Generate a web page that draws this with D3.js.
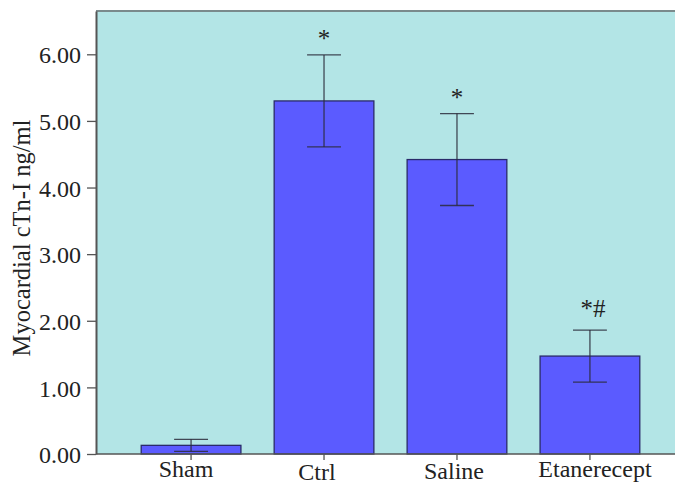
<!DOCTYPE html>
<html><head><meta charset="utf-8">
<script src="https://cdn.jsdelivr.net/npm/d3@7"></script>
<style>html,body{margin:0;padding:0;background:#fff;}svg{display:block;}</style>
</head><body>
<svg id="c" width="675" height="484"></svg>
<script>
const categories = ["Sham", "Ctrl", "Saline", "Etanerecept"];
const means = [0.13, 5.30, 4.42, 1.47];
const errors = [0.09, 0.69, 0.69, 0.39];
const marks = ["", "*", "*", "*#"];
const yTicks = [0, 1, 2, 3, 4, 5, 6];
const yLabel = "Myocardial cTn-I ng/ml";

const svg = d3.select("#c");
const L = 96, R = 685, T = 11, B = 454;
const font = "'Liberation Serif','Times New Roman',serif";

const x = d3.scaleBand().domain(categories).range([L, R]).paddingInner(0.25).paddingOuter(0.34);
const y = d3.scaleLinear().domain([0, 6.65]).range([B, T]);

svg.append("rect").attr("x", L).attr("y", T).attr("width", 675 - L).attr("height", B - T)
  .attr("fill", "#b3e5e6");
svg.append("line").attr("x1", L).attr("x2", 675).attr("y1", T).attr("y2", T)
  .attr("stroke", "#7a8a8c").attr("stroke-width", 2);

const data = categories.map((c, i) => ({c, m: means[i], e: errors[i], mk: marks[i]}));

svg.selectAll("rect.bar").data(data).join("rect").attr("class", "bar")
  .attr("x", d => x(d.c)).attr("width", x.bandwidth())
  .attr("y", d => y(d.m)).attr("height", d => B - y(d.m))
  .attr("fill", "#5b5bff").attr("stroke", "#2a2a6a").attr("stroke-width", 1.3);

const cap = x.bandwidth() * 0.17;
const eb = svg.selectAll("g.err").data(data).join("g").attr("class", "err")
  .attr("stroke", "#2b2b3b").attr("stroke-width", 1.3).attr("stroke-opacity", 0.85);
eb.append("line").attr("x1", d => x(d.c) + x.bandwidth()/2).attr("x2", d => x(d.c) + x.bandwidth()/2)
  .attr("y1", d => y(d.m + d.e)).attr("y2", d => y(d.m - d.e));
eb.append("line").attr("x1", d => x(d.c) + x.bandwidth()/2 - cap).attr("x2", d => x(d.c) + x.bandwidth()/2 + cap)
  .attr("y1", d => y(d.m + d.e)).attr("y2", d => y(d.m + d.e));
eb.append("line").attr("x1", d => x(d.c) + x.bandwidth()/2 - cap).attr("x2", d => x(d.c) + x.bandwidth()/2 + cap)
  .attr("y1", d => y(d.m - d.e)).attr("y2", d => y(d.m - d.e));

svg.selectAll("text.mk").data(data.filter(d => d.mk)).join("text").attr("class", "mk")
  .attr("x", d => x(d.c) + x.bandwidth()/2 + (d.mk.length > 1 ? 3 : 0))
  .attr("y", d => y(d.m + d.e) - (d.mk.length > 1 ? 13 : 8))
  .attr("text-anchor", "middle").attr("font-family", font).attr("font-size", 25)
  .attr("fill", "#222").text(d => d.mk);

// y axis
const ya = svg.append("g").attr("transform", `translate(${L},0)`)
  .call(d3.axisLeft(y).tickValues(yTicks).tickFormat(d3.format(".2f")).tickSize(9).tickSizeOuter(0));
ya.select(".domain").attr("stroke", "#555").attr("stroke-width", 2);
ya.selectAll(".tick line").attr("stroke", "#555").attr("stroke-width", 1.3);
ya.selectAll(".tick text").attr("font-family", font).attr("font-size", 24).attr("fill", "#222")
  .attr("x", -15).attr("dy", "0.36em");

// x axis
const xa = svg.append("g").attr("transform", `translate(0,${B})`)
  .call(d3.axisBottom(x).tickSize(6).tickSizeOuter(0));
xa.select(".domain").attr("stroke", "#555").attr("stroke-width", 1.5).attr("d", `M${L},0H675`);
xa.selectAll(".tick line").attr("stroke", "#555").attr("stroke-width", 1.3);
const labelDx = [-5, -7, -3, 5], labelDy = [23, 26, 25, 23];
xa.selectAll(".tick text").attr("font-family", font).attr("font-size", 24).attr("fill", "#222")
  .attr("dy", null).attr("y", (d, i) => labelDy[i]).attr("x", (d, i) => labelDx[i]);

svg.append("text").attr("transform", `translate(30,238) rotate(-90)`)
  .attr("text-anchor", "middle").attr("font-family", font).attr("font-size", 24.5)
  .attr("fill", "#222").text(yLabel);
</script>
</body></html>
